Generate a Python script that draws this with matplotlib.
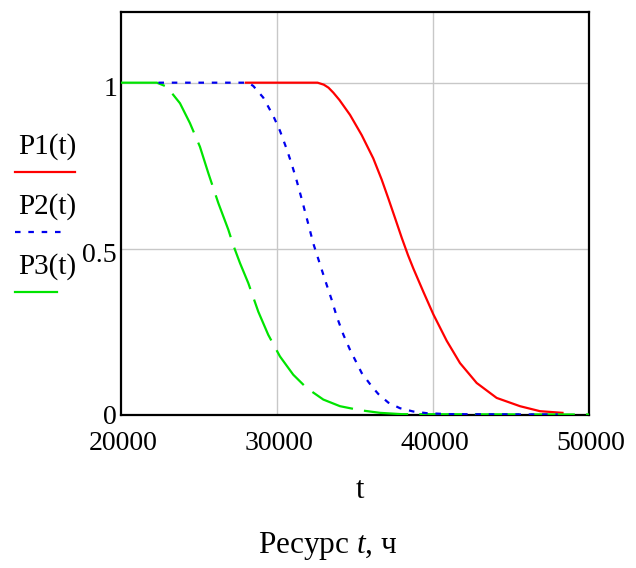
import matplotlib
matplotlib.use('Agg')
import matplotlib.pyplot as plt
from matplotlib.lines import Line2D

plt.rcParams['font.family'] = ['Liberation Serif', 'DejaVu Serif']
plt.rcParams['mathtext.fontset'] = 'custom'
plt.rcParams['mathtext.it'] = 'Liberation Serif:italic'
plt.rcParams['mathtext.rm'] = 'Liberation Serif'

# P1(t) - red solid
t1 = [28000, 32600, 33000, 33300, 33610, 34000, 34680, 35430, 36170, 36710,
      37130, 37560, 38000, 38400, 38740, 39380, 40020, 40880, 41730, 42800,
      44080, 45580, 46860, 48300]
p1 = [1, 1, 0.994, 0.985, 0.970, 0.948, 0.903, 0.842, 0.772, 0.708,
      0.652, 0.593, 0.532, 0.480, 0.440, 0.370, 0.302, 0.222, 0.155, 0.095,
      0.050, 0.025, 0.010, 0.005]

# P2(t) - blue dotted
t2 = [22400, 28160, 28480, 29120, 29760, 30190, 30620, 30940, 31260, 31580,
      32000, 32330, 32870, 33190, 33510, 33830, 34260, 34680, 35110, 35430,
      36070, 36490, 37130, 37880, 38740, 39600, 41000, 48000]
p2 = [1, 1, 0.99, 0.955, 0.90, 0.855, 0.80, 0.755, 0.705, 0.65,
      0.575, 0.515, 0.436, 0.39, 0.345, 0.295, 0.24, 0.195, 0.155, 0.125,
      0.085, 0.062, 0.036, 0.019, 0.009, 0.004, 0.001, 0]

# P3(t) - green dashed
t3 = [20000, 22300, 22930, 23780, 24420, 25060, 25600, 26240, 26880, 27200,
      27630, 28160, 28800, 29440, 30190, 31040, 31900, 32970, 34040, 35320,
      36600, 38000, 50000]
p3 = [1, 1, 0.988, 0.938, 0.878, 0.807, 0.727, 0.637, 0.557, 0.51,
      0.456, 0.396, 0.310, 0.240, 0.175, 0.120, 0.080, 0.045, 0.025, 0.013,
      0.005, 0.001, 0]

xticks = [20000, 30000, 40000, 50000]
yticks = [0, 0.5, 1]
ytick_labels = ['0', '0.5', '1']
legend_labels = ['P1(t)', 'P2(t)', 'P3(t)']

W, H = 636, 568
red, blue, green = '#ff0000', '#0000ee', '#00e400'

fig = plt.figure(figsize=(W / 100, H / 100), dpi=100)
ax = fig.add_axes([121 / W, 1 - 414.5 / H, 468 / W, 402.5 / H])
ax.set_xlim(20000, 50000)
ax.set_ylim(0, 1.213)

for x in xticks[1:-1]:
    ax.axvline(x, color='#c8c8c8', lw=1, zorder=0)
for y in yticks[1:]:
    ax.axhline(y, color='#c8c8c8', lw=1, zorder=0)

ax.plot(t1, p1, color=red, lw=1.6, zorder=3)
ax.plot(t3, p3, color=green, lw=1.6, dashes=(20, 5), zorder=4)
ax.plot(t2, p2, color=blue, lw=1.6, dashes=(2.5, 3.5), zorder=5)

ax.set_xticks([])
ax.set_yticks([])
for s in ax.spines.values():
    s.set_linewidth(1.6)
    s.set_color('black')

def px(x, y):
    return x / W, 1 - y / H

# tick labels
for x in xticks:
    xf = (121 + (x - 20000) / 30000 * 468) / W
    fig.text(xf + 2 / W, 1 - 443 / H, f'{x}', ha='center', va='center', fontsize=20)
for y, lab in zip(yticks, ytick_labels):
    yp = 414.5 - y * 331.8 + (3 if y == 0 else 7)
    fig.text(*px(117, yp), lab, ha='right', va='center', fontsize=20)

# legend on the left
styles = [dict(color=red), dict(color=blue, dashes=(2.5, 3.5)),
          dict(color=green)]
ends = [75, 65, 57]
for i, (lab, st, xe) in enumerate(zip(legend_labels, styles, ends)):
    yt = 147 + i * 60
    fig.text(*px(18, yt), lab, ha='left', va='center', fontsize=21)
    yl = yt + 25
    fig.add_artist(Line2D([15 / W, xe / W], [1 - yl / H, 1 - yl / H],
                          lw=1.6, **st))

fig.text(*px(360, 490), 't', ha='center', va='center', fontsize=22)
fig.text(*px(328, 546), r'Ресурс $\it{t}$, ч', ha='center', va='center', fontsize=22.5)

fig.savefig('out.png', dpi=100)
